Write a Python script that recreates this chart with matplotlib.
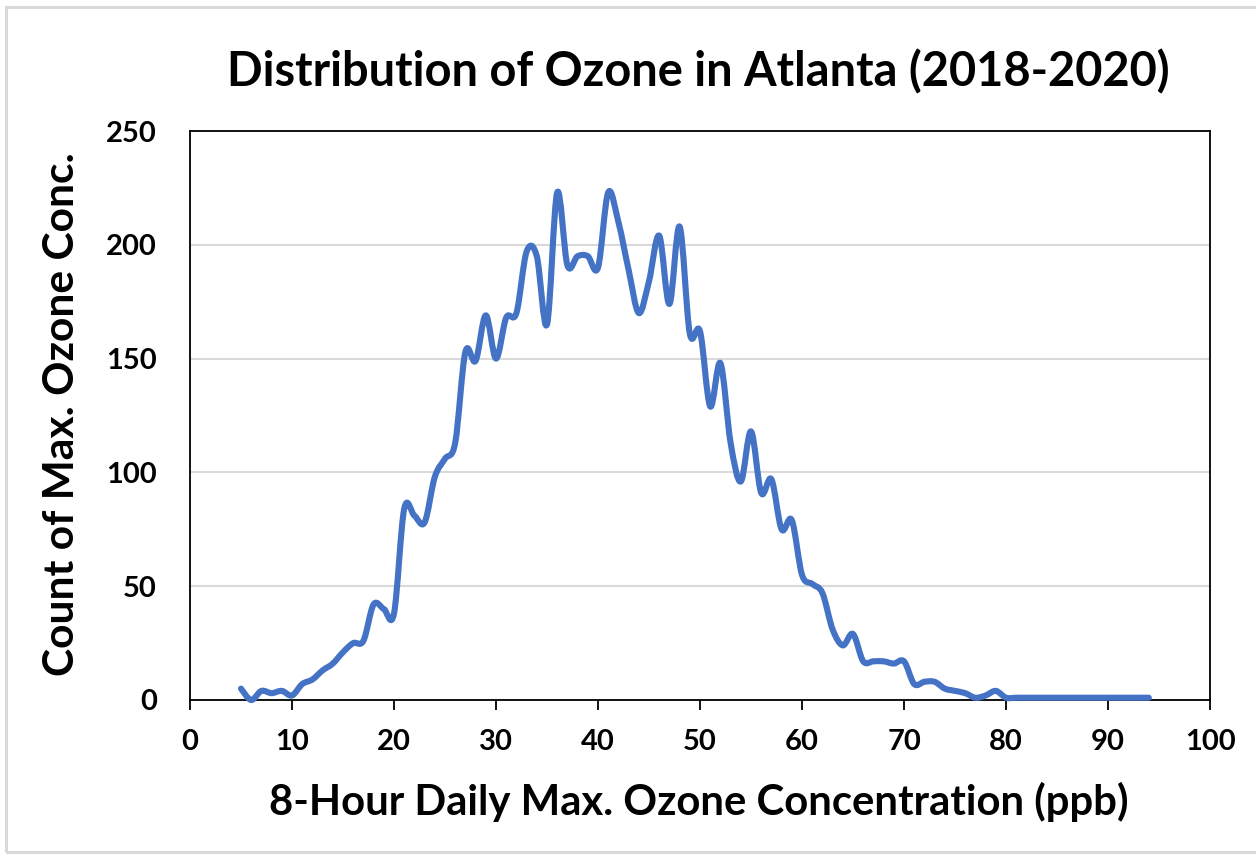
import matplotlib
matplotlib.use("Agg")
import matplotlib.pyplot as plt
from matplotlib.path import Path
from matplotlib.patches import PathPatch, Rectangle

# ---- data ----
ozone_ppb = list(range(5, 95))
counts = [5, 0, 4, 3, 4, 2, 7, 9, 13, 16,          # 5-14
          21, 25, 26, 42, 40, 38, 84, 81, 78, 98,  # 15-24
          106, 113, 153, 149, 169, 150, 168, 170, 197, 195,  # 25-34
          165, 223, 191, 195, 195, 190, 223, 210, 189, 170,  # 35-44
          184, 204, 174, 208, 161, 162, 129, 148, 113, 96,   # 45-54
          118, 91, 97, 75, 79, 55, 51, 47, 31, 24,           # 55-64
          29, 17, 17, 17, 16, 17, 7, 8, 8, 5,                # 65-74
          4, 3, 1, 2, 4, 1, 1, 1, 1, 1,                      # 75-84
          1, 1, 1, 1, 1, 1, 1, 1, 1, 1]                      # 85-94
x_ticks = [0, 10, 20, 30, 40, 50, 60, 70, 80, 90, 100]
y_ticks = [0, 50, 100, 150, 200, 250]

title = "Distribution of Ozone in Atlanta (2018-2020)"
xlabel = "8-Hour Daily Max. Ozone Concentration (ppb)"
ylabel = "Count of Max. Ozone Conc."

FONT = "Lato"
LINE_COLOR = "#4472C4"

fig = plt.figure(figsize=(12.56, 8.59), dpi=100)
fig.patch.set_facecolor("white")

# chart-area border (light gray frame)
fig.patches.append(Rectangle((6 / 1256, 7 / 859), 1.2, 1 - 14 / 859,
                             transform=fig.transFigure, fill=False,
                             edgecolor="#D9D9D9", linewidth=2.2))

ax = fig.add_axes([190 / 1256, 1 - 700 / 859, 1020 / 1256, 569 / 859])
ax.set_xlim(0, 100)
ax.set_ylim(0, 250)
ax.set_xticks(x_ticks)
ax.set_yticks(y_ticks)
ax.grid(axis="y", color="#D9D9D9", linewidth=1.5)
ax.set_axisbelow(True)
for s in ax.spines.values():
    s.set_color("black")
    s.set_linewidth(1.3)

ax.tick_params(axis="x", direction="out", length=7, width=1.3, pad=14,
               labelsize=21)
ax.tick_params(axis="y", length=0, pad=24, labelsize=21)
for lab in ax.get_xticklabels() + ax.get_yticklabels():
    lab.set_fontfamily(FONT)
    lab.set_fontweight("bold")

# smoothed line (Catmull-Rom style cubic Bezier, like Excel "smoothed line")
pts = list(zip(ozone_ppb, counts))
verts = [pts[0]]
codes = [Path.MOVETO]
n = len(pts)
for i in range(n - 1):
    p0 = pts[i - 1] if i > 0 else pts[i]
    p1 = pts[i]
    p2 = pts[i + 1]
    p3 = pts[i + 2] if i + 2 < n else pts[i + 1]
    c1 = (p1[0] + (p2[0] - p0[0]) / 6, p1[1] + (p2[1] - p0[1]) / 6)
    c2 = (p2[0] - (p3[0] - p1[0]) / 6, p2[1] - (p3[1] - p1[1]) / 6)
    verts += [c1, c2, p2]
    codes += [Path.CURVE4] * 3
path = Path(verts, codes)
ax.add_patch(PathPatch(path, facecolor="none", edgecolor=LINE_COLOR,
                       linewidth=4.4, capstyle="round", joinstyle="round",
                       zorder=3, clip_on=False))

fig.text(698 / 1256, 1 - 86 / 859, title, ha="center", va="baseline",
         fontsize=33.8, fontweight="bold", family=FONT)
fig.text(699 / 1256, 1 - 815 / 859, xlabel, ha="center", va="baseline",
         fontsize=30.2, fontweight="bold", family=FONT)
fig.text(62 / 1256, 1 - 414 / 859, ylabel, ha="center", va="center",
         rotation=90, fontsize=30.6, fontweight="bold", family=FONT)

fig.savefig("out.png", dpi=100, facecolor="white")
